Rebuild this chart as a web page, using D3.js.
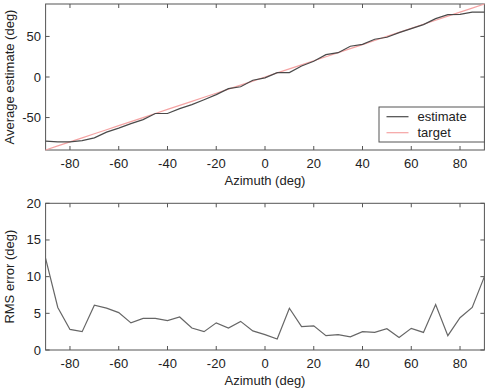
<!DOCTYPE html>
<html><head><meta charset="utf-8">
<script src="https://cdn.jsdelivr.net/npm/d3@7"></script>
<style>body{margin:0;background:#fff}svg{display:block}text{font-family:"Liberation Sans",Arial,sans-serif;fill:#222}</style>
</head><body><svg id="c" width="490" height="390"></svg>
<script>
const azimuth = d3.range(-90, 91, 5);
const estimate = [-79,-80,-80,-78.5,-75,-68,-63,-57.5,-52.5,-45,-45,-39,-34,-28,-21.7,-14.3,-12,-4,-1,5.4,5.4,13.6,19.4,27.6,30,37.9,40.3,46.5,49,54.7,59.7,64.6,72,76.9,77.3,80,80];
const target = azimuth.slice();
const rmsError = [12.5,5.8,2.8,2.5,6.1,5.7,5.1,3.7,4.3,4.3,4.0,4.5,3.0,2.5,3.7,3.0,3.9,2.6,2.1,1.5,5.7,3.2,3.3,1.95,2.1,1.8,2.5,2.4,2.9,1.7,2.95,2.4,6.2,1.95,4.4,5.8,10.0];
const xTicks = [-80,-60,-40,-20,0,20,40,60,80];
const yTicksTop = [-50,0,50];
const yTicksBottom = [0,5,10,15,20];
const legendLabels = ["estimate","target"];

const svg = d3.select("#c");
const axisCol = "#555";
const left = 45.6, right = 484.4;

function panel(top, bottom, ydom, yticks, ylabel) {
  const x = d3.scaleLinear().domain([-90,90]).range([left,right]);
  const y = d3.scaleLinear().domain(ydom).range([bottom,top]);
  const g = svg.append("g");
  g.append("rect").attr("x",left).attr("y",top).attr("width",right-left).attr("height",bottom-top)
    .attr("fill","none").attr("stroke",axisCol).attr("stroke-width",1);
  const tl = 4;
  xTicks.forEach(t=>{
    g.append("line").attr("x1",x(t)).attr("x2",x(t)).attr("y1",bottom).attr("y2",bottom-tl).attr("stroke",axisCol);
    g.append("line").attr("x1",x(t)).attr("x2",x(t)).attr("y1",top).attr("y2",top+tl).attr("stroke",axisCol);
    g.append("text").attr("x",x(t)).attr("y",bottom+18).attr("text-anchor","middle").attr("font-size",13).text(t);
  });
  yticks.forEach(t=>{
    g.append("line").attr("x1",left).attr("x2",left+tl).attr("y1",y(t)).attr("y2",y(t)).attr("stroke",axisCol);
    g.append("line").attr("x1",right).attr("x2",right-tl).attr("y1",y(t)).attr("y2",y(t)).attr("stroke",axisCol);
    g.append("text").attr("x",41).attr("y",y(t)+4.5).attr("text-anchor","end").attr("font-size",13).text(t);
  });
  g.append("text").attr("x",265).attr("y",bottom+34.5).attr("text-anchor","middle").attr("font-size",13).text("Azimuth (deg)");
  g.append("text").attr("transform",`translate(14,${(top+bottom)/2}) rotate(-90)`).attr("text-anchor","middle").attr("font-size",13).text(ylabel);
  return {x,y,g};
}

const p1 = panel(4, 150, [-90,90], yTicksTop, "Average estimate (deg)");
const line1 = d3.line().x((d,i)=>p1.x(azimuth[i])).y(d=>p1.y(d));
p1.g.append("path").datum(target).attr("d",line1).attr("fill","none").attr("stroke","#f5a3a3").attr("stroke-width",1.2);
p1.g.append("path").datum(estimate).attr("d",line1).attr("fill","none").attr("stroke","#4a4a4a").attr("stroke-width",1.2);

const lg = p1.g.append("g");
lg.append("rect").attr("x",379).attr("y",107).attr("width",105.4).attr("height",35).attr("fill","#fff").attr("stroke",axisCol);
[["#4a4a4a",116.7],["#f5a3a3",132.7]].forEach((c,i)=>{
  lg.append("line").attr("x1",386.5).attr("x2",408.5).attr("y1",c[1]).attr("y2",c[1]).attr("stroke",c[0]).attr("stroke-width",1.2);
  lg.append("text").attr("x",417.5).attr("y",c[1]+4.5).attr("font-size",13).text(legendLabels[i]);
});

const p2 = panel(203.3, 350, [0,20], yTicksBottom, "RMS error (deg)");
const line2 = d3.line().x((d,i)=>p2.x(azimuth[i])).y(d=>p2.y(d));
p2.g.append("path").datum(rmsError).attr("d",line2).attr("fill","none").attr("stroke","#666").attr("stroke-width",1.2);
</script></body></html>
